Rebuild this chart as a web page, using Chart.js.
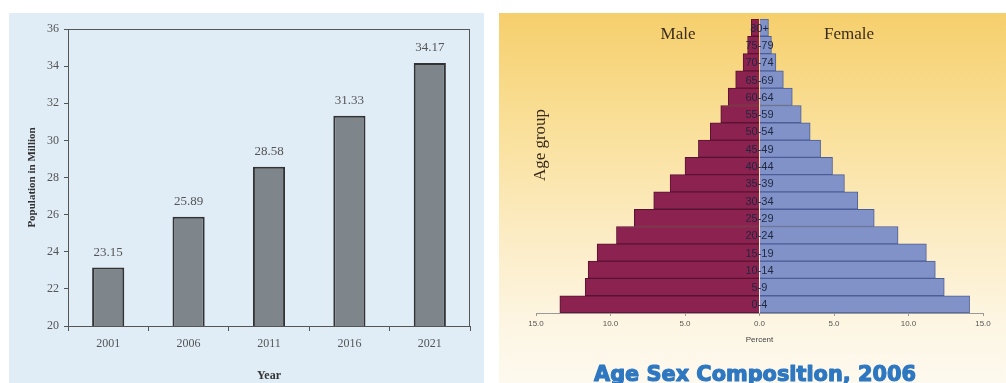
<!DOCTYPE html>
<html>
<head>
<meta charset="utf-8">
<script src="https://cdn.jsdelivr.net/npm/chart.js@4.4.1/dist/chart.umd.min.js"></script>
<style>
  body { margin: 0; background: #fff; width: 1006px; height: 383px; position: relative; overflow: hidden; }
  #popBox { position: absolute; left: 9px; top: 13px; width: 475px; height: 370px; background: #e0ecf6; }
  #ageBox { position: absolute; left: 499px; top: 13px; width: 507px; height: 370px;
            background: linear-gradient(#f6cf6c 0%, #f9df98 30%, #fcecc4 60%, #fdf6e4 85%, #fdf9ee 100%); }
  canvas { display: block; }
</style>
</head>
<body>
<div id="popBox"><canvas id="popChart" width="475" height="370"></canvas></div>
<div id="ageBox"><canvas id="ageChart" width="507" height="370"></canvas></div>
<script>
// population by census year (millions)
const years = ['2001', '2006', '2011', '2016', '2021'];
const population = [23.15, 25.89, 28.58, 31.33, 34.17];
const popTicks = [20, 22, 24, 26, 28, 30, 32, 34, 36];

// age pyramid, 2006 (percent of population)
const ageGroups = ['0-4', '5-9', '10-14', '15-19', '20-24', '25-29', '30-34', '35-39', '40-44',
                   '45-49', '50-54', '55-59', '60-64', '65-69', '70-74', '75-79', '80+'];
const malePct = [13.4, 11.7, 11.5, 10.9, 9.6, 8.4, 7.1, 6.0, 5.0, 4.1, 3.3, 2.6, 2.1, 1.6, 1.1, 0.8, 0.55];
const femalePct = [14.1, 12.4, 11.8, 11.2, 9.3, 7.7, 6.6, 5.7, 4.9, 4.1, 3.4, 2.8, 2.2, 1.6, 1.1, 0.8, 0.6];
const percentTicks = [-15, -10, -5, 0, 5, 10, 15];

const serif = '"Liberation Serif", "DejaVu Serif", serif';
const sans = '"Liberation Sans", Arial, sans-serif';

// frame round the plot area + value labels over bars
const popDecor = {
  id: 'popDecor',
  afterDatasetsDraw(chart) {
    const { ctx, chartArea: a } = chart;
    ctx.save();
    ctx.strokeStyle = '#555';
    ctx.lineWidth = 1;
    ctx.strokeRect(a.left + 0.5, a.top + 0.5, a.right - a.left - 1, a.bottom - a.top);
    ctx.fillStyle = '#555';
    ctx.font = '13px ' + serif;
    ctx.textAlign = 'center';
    ctx.textBaseline = 'middle';
    chart.getDatasetMeta(0).data.forEach((bar, i) => {
      ctx.fillText(population[i].toFixed(2), bar.x, bar.y - 15);
    });
    ctx.restore();
  }
};

new Chart(document.getElementById('popChart'), {
  type: 'bar',
  data: {
    labels: years,
    datasets: [{
      data: population,
      backgroundColor: '#7e858b',
      borderColor: '#333',
      borderWidth: 2,
      barPercentage: 0.4,
      categoryPercentage: 1
    }]
  },
  options: {
    responsive: false,
    animation: false,
    layout: { padding: { top: 16, right: 14, left: 0, bottom: 0 } },
    plugins: { legend: { display: false }, tooltip: { enabled: false } },
    scales: {
      x: {
        afterFit(s) { s.height = 57; },
        grid: { drawOnChartArea: false, tickLength: 5, color: '#555' },
        border: { color: '#555' },
        ticks: { color: '#555', font: { size: 12, family: serif }, padding: 6 },
        title: { display: true, text: 'Year', color: '#333', font: { size: 12, weight: 'bold', family: serif }, padding: 0 }
      },
      y: {
        min: 20, max: 36,
        afterFit(s) { s.width = 59; },
        afterBuildTicks(s) { s.ticks = popTicks.map(v => ({ value: v })); },
        grid: { drawOnChartArea: false, tickLength: 4, color: '#555' },
        border: { color: '#555' },
        ticks: { color: '#555', font: { size: 12, family: serif }, padding: 5 },
        title: { display: true, text: 'Population in Million', color: '#333', font: { size: 11, weight: 'bold', family: serif }, padding: { top: 17 } }
      }
    }
  },
  plugins: [popDecor]
});

// age labels down the middle, side labels and captions
const ageDecor = {
  id: 'ageDecor',
  afterDatasetsDraw(chart) {
    const { ctx, scales: { x, y } } = chart;
    const x0 = x.getPixelForValue(0);
    ctx.save();
    ctx.fillStyle = '#1f2740';
    ctx.font = '11px ' + sans;
    ctx.textAlign = 'center';
    ctx.textBaseline = 'middle';
    ageGroups.forEach((g, i) => ctx.fillText(g, x0, y.getPixelForValue(i) + 1));

    ctx.fillStyle = '#3a2c1c';
    ctx.font = '17px ' + serif;
    ctx.fillText('Male', 179, 22);
    ctx.fillText('Female', 350, 22);
    ctx.save();
    ctx.translate(42, 132);
    ctx.rotate(-Math.PI / 2);
    ctx.fillText('Age group', 0, 0);
    ctx.restore();

    ctx.fillStyle = '#444';
    ctx.font = '8px ' + sans;
    ctx.fillText('Percent', x0, 327);

    // heavy blue caption, squeezed to its width
    const cap = 'Age Sex Composition, 2006';
    ctx.font = 'bold 22px "DejaVu Sans", sans-serif';
    ctx.fillStyle = '#2e77c1';
    ctx.strokeStyle = '#2e77c1';
    ctx.lineWidth = 1.2;
    ctx.lineJoin = 'round';
    const w = ctx.measureText(cap).width;
    ctx.translate(256, 368);
    ctx.scale(322 / w, 1);
    ctx.textBaseline = 'alphabetic';
    ctx.fillText(cap, 0, 0);
    ctx.strokeText(cap, 0, 0);
    ctx.restore();
  }
};

new Chart(document.getElementById('ageChart'), {
  type: 'bar',
  data: {
    labels: ageGroups,
    datasets: [
      { label: 'Male', data: malePct.map(v => -v), backgroundColor: '#8b2250', borderColor: '#5a1232', borderWidth: 1,
        barPercentage: 1, categoryPercentage: 1 },
      { label: 'Female', data: femalePct, backgroundColor: '#8092c8', borderColor: '#4d5d96', borderWidth: 1,
        barPercentage: 1, categoryPercentage: 1 }
    ]
  },
  options: {
    indexAxis: 'y',
    responsive: false,
    animation: false,
    layout: { padding: { top: 6, right: 23, left: 37, bottom: 0 } },
    plugins: { legend: { display: false }, tooltip: { enabled: false } },
    scales: {
      x: {
        min: -15, max: 15, stacked: true,
        afterFit(s) { s.height = 70; },
        afterBuildTicks(s) { s.ticks = percentTicks.map(v => ({ value: v })); },
        grid: { drawOnChartArea: false, tickLength: 3, color: '#999' },
        border: { color: '#999' },
        ticks: { color: '#555', font: { size: 8, family: sans }, padding: 3,
                 callback: v => Math.abs(v).toFixed(1) }
      },
      y: { stacked: true, reverse: true, display: false }
    }
  },
  plugins: [ageDecor]
});
</script>
</body>
</html>
